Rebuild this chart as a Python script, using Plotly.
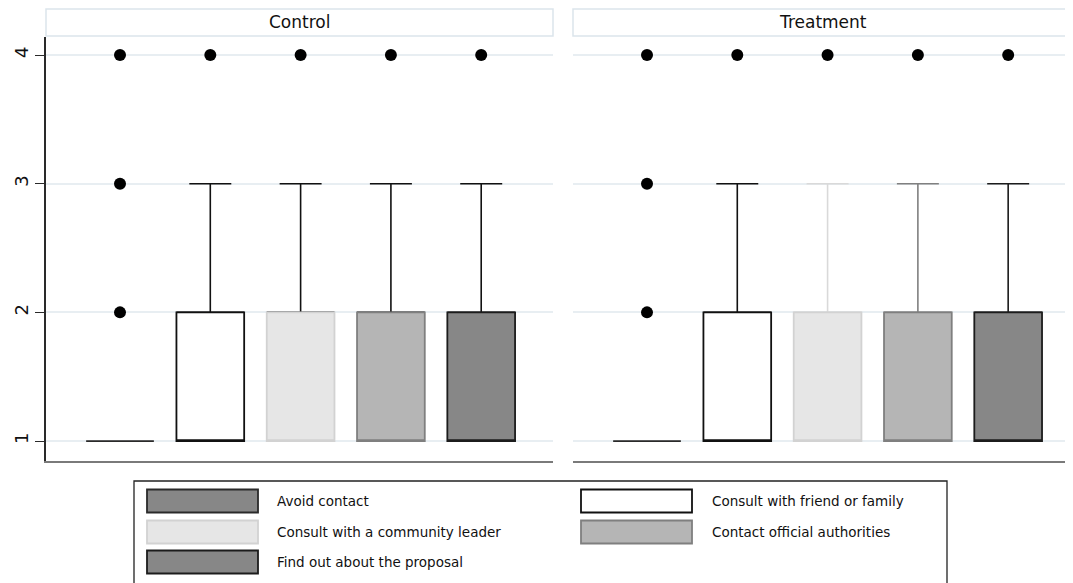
import plotly.graph_objects as go
from plotly.subplots import make_subplots

# ---------------- data ----------------
panels = ["Control", "Treatment"]
categories = [
    "Avoid contact",
    "Consult with friend or family",
    "Consult with a community leader",
    "Contact official authorities",
    "Find out about the proposal",
]
q1_values = [1, 1, 1, 1, 1]
median_values = [1, 1, 1, 1, 1]
q3_values = [1, 2, 2, 2, 2]
upper_whisker = [1, 3, 3, 3, 3]
outliers_control = [[2, 3, 4], [4], [4], [4], [4]]
outliers_treatment = [[2, 3, 4], [4], [4], [4], [4]]
y_ticks = [1, 2, 3, 4]

# ---------------- styles ----------------
fills = ["#878787", "#ffffff", "#e6e6e6", "#b5b5b5", "#878787"]
borders = ["#2a2a2a", "#111111", "#d2d2d2", "#7f7f7f", "#1c1c1c"]
whisker_colors = {
    "Control": ["#111111"] * 5,
    "Treatment": ["#2a2a2a", "#111111", "#d9d9d9", "#808080", "#1c1c1c"],
}
outliers_by_panel = {"Control": outliers_control, "Treatment": outliers_treatment}

FONT = "DejaVu Sans"
OFF = 8  # page body margin: figure is drawn at (8, 8) on the page
W, H = 1073 - OFF, 583 - OFF
left, top = 46 - OFF, 37 - OFF
plot_bottom = 461 - OFF
right = 0
bottom = H - plot_bottom
plot_w = W - left - right
plot_h = H - top - bottom

fig = make_subplots(rows=1, cols=2, horizontal_spacing=0.02)

BOXW = 0.75
for c, panel in enumerate(panels, start=1):
    for i, cat in enumerate(categories):
        # whisker (drawn first, covered by the box border)
        if upper_whisker[i] > q3_values[i]:
            fig.add_trace(go.Box(
                x=[i], q1=[q3_values[i]], median=[q3_values[i]], q3=[q3_values[i]],
                lowerfence=[q3_values[i]], upperfence=[upper_whisker[i]],
                width=BOXW, whiskerwidth=0.62,
                fillcolor="rgba(0,0,0,0)",
                line=dict(color=whisker_colors[panel][i], width=1.6),
                showlegend=False, hoverinfo="skip", boxpoints=False,
            ), row=1, col=c)
        fig.add_trace(go.Box(
            x=[i], q1=[q1_values[i]], median=[median_values[i]], q3=[q3_values[i]],
            lowerfence=[q1_values[i]], upperfence=[q3_values[i]],
            width=BOXW, whiskerwidth=0,
            fillcolor=fills[i],
            line=dict(color=borders[i], width=1.8),
            name=cat, showlegend=False, boxpoints=False,
        ), row=1, col=c)
        outs = outliers_by_panel[panel][i]
        if outs:
            fig.add_trace(go.Scatter(
                x=[i] * len(outs), y=outs, mode="markers",
                marker=dict(color="black", size=12, symbol="circle"),
                showlegend=False, hoverinfo="y",
            ), row=1, col=c)

# ---------------- axes ----------------
def px_x(p):
    return (p - OFF - left) / plot_w

def px_y(p):
    return (plot_bottom - (p - OFF)) / plot_h

d1 = px_x(553)
d2 = px_x(573)
fig.update_xaxes(domain=[0, d1], range=[-0.8195, 4.795], row=1, col=1)
fig.update_xaxes(domain=[d2, 1], range=[-0.8195, 4.718], row=1, col=2)
fig.update_xaxes(showticklabels=False, ticks="", showgrid=False, zeroline=False,
                 showline=True, linecolor="#7a7a7a", linewidth=1.5)
fig.update_yaxes(range=[0.845, 4.14], tickvals=y_ticks, showgrid=True,
                 gridcolor="#e8eef2", gridwidth=1.5, zeroline=False)
fig.update_yaxes(row=1, col=1, showline=True, linecolor="#2a2a2a", linewidth=1.5,
                 ticks="outside", ticklen=9, tickwidth=1.3, tickcolor="#2a2a2a",
                 tickangle=-90, tickfont=dict(size=18, color="#111", family=FONT))
fig.update_yaxes(row=1, col=2, showticklabels=False, ticks="", showline=False,
                 matches="y")

# ---------------- panel headers ----------------
hy0 = px_y(36)
hy1 = px_y(9)
for c, panel in enumerate(panels, start=1):
    xref = "x domain" if c == 1 else "x2 domain"
    fig.add_shape(type="rect", xref=xref, yref="paper", x0=0, x1=1, y0=hy0, y1=hy1,
                  line=dict(color="#dbe5eb", width=1.5), fillcolor="white", layer="below")
    fig.add_annotation(xref=xref, yref="paper", x=0.5, y=(hy0 + hy1) / 2,
                       text=panel, showarrow=False, yanchor="middle", xanchor="center",
                       font=dict(size=17, color="#111", family=FONT))

# ---------------- legend (drawn manually, Stata style) ----------------
fig.add_shape(type="rect", xref="paper", yref="paper",
              x0=px_x(134), x1=px_x(947), y0=px_y(584), y1=px_y(481),
              line=dict(color="#222", width=1.3), fillcolor="white")
row_centers = [501, 532, 562]
col_swatch = [(147, 258, 275), (581, 692, 710)]
for k, cat in enumerate(categories):
    r, cidx = divmod(k, 2)
    sx0, sx1, tx = col_swatch[cidx]
    cy = row_centers[r]
    fig.add_shape(type="rect", xref="paper", yref="paper",
                  x0=px_x(sx0), x1=px_x(sx1), y0=px_y(cy + 11.5), y1=px_y(cy - 11.5),
                  line=dict(color=borders[k], width=1.8), fillcolor=fills[k])
    fig.add_annotation(xref="paper", yref="paper", x=px_x(tx), y=px_y(cy),
                       text=cat, showarrow=False, xanchor="left", yanchor="middle",
                       font=dict(size=13.5, color="#111", family=FONT))

fig.update_layout(
    width=W, height=H,
    margin=dict(l=left, r=right, t=top, b=bottom, pad=0),
    plot_bgcolor="white", paper_bgcolor="white",
    boxmode="overlay", showlegend=False,
)

fig.write_html("out.html")
